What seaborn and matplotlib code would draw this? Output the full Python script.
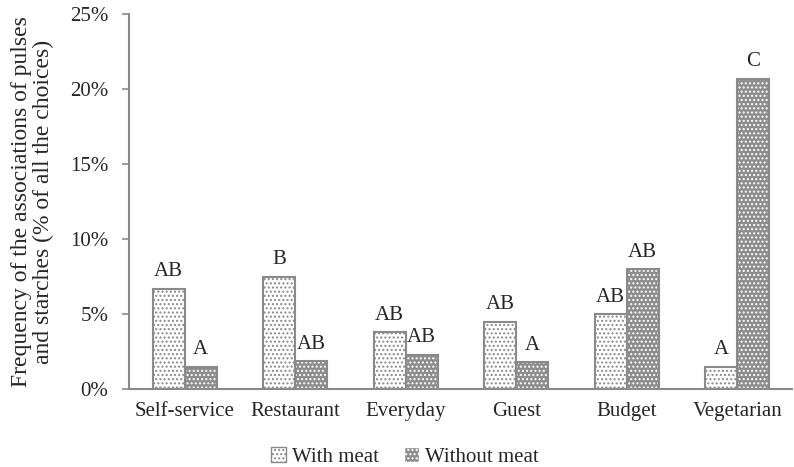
import numpy as np
import pandas as pd
import matplotlib.pyplot as plt
import seaborn as sns
from matplotlib.patches import Patch

# values (% of all choices)
categories = ["Self-service", "Restaurant", "Everyday", "Guest", "Budget", "Vegetarian"]
with_meat = [6.67, 7.5, 3.8, 4.5, 5.0, 1.5]
without_meat = [1.5, 1.85, 2.3, 1.8, 8.0, 20.67]
letters_with = ["AB", "B", "AB", "AB", "AB", "A"]
letters_without = ["A", "AB", "AB", "A", "AB", "C"]
series = ["With meat", "Without meat"]

data = pd.DataFrame({
    "category": categories * 2,
    "value": with_meat + without_meat,
    "type": [series[0]] * len(categories) + [series[1]] * len(categories),
    "letter": letters_with + letters_without,
})

sns.set_style("white")
plt.rcParams['font.family'] = ['Liberation Serif', 'DejaVu Serif']

fig, ax = plt.subplots(figsize=(7.94, 4.67), dpi=100)
fig.subplots_adjust(left=0.163, right=0.998, top=0.97, bottom=0.167)

edge = "#8a8a8a"
sns.barplot(data=data, x="category", y="value", hue="type", order=categories,
            hue_order=series, palette=["white", "#8c8c8c"], width=0.58,
            ax=ax, legend=False)

# dotted fills: light bars get grey dots, dark bars get white dots
n = len(categories)
for i, bar in enumerate(ax.patches[:2 * n]):
    bar.set_hatch("....")
    bar.set_linewidth(0)
    bar.set_edgecolor(edge if i < n else "white")

# outline pass
sns.barplot(data=data, x="category", y="value", hue="type", order=categories,
            hue_order=series, fill=False, width=0.58, ax=ax, legend=False)
for bar in ax.patches[2 * n:]:
    bar.set_edgecolor(edge)
    bar.set_linewidth(1.5)

# significance letters
for bar, (_, row) in zip(ax.patches[:2 * n], data.iterrows()):
    ax.text(bar.get_x() + bar.get_width() / 2, row["value"] + 0.5, row["letter"],
            ha="center", va="bottom", fontsize=15)

ax.set_ylim(0, 25)
ax.set_xlim(-0.5, 5.5)
ax.set_yticks(range(0, 26, 5))
ax.set_yticklabels([f"{v}%" for v in range(0, 26, 5)], fontsize=15)
ax.tick_params(axis="x", labelsize=15, length=0, pad=9)
ax.tick_params(axis="y", left=True, length=5, color=edge, width=1.2, pad=10)
ax.set_xlabel("")
ax.set_ylabel("Frequency of the associations of pulses\nand starches (% of all the choices)",
              fontsize=17, labelpad=12, linespacing=1.05)
for side in ["top", "right"]:
    ax.spines[side].set_visible(False)
for side in ["left", "bottom"]:
    ax.spines[side].set_color(edge)
    ax.spines[side].set_linewidth(1.5)

# legend
handles = [Patch(facecolor="white", edgecolor=edge, hatch="...."),
           Patch(facecolor="#8c8c8c", edgecolor="white", hatch="....")]
fig.legend(handles, series, loc="lower center", ncol=2, frameon=False,
           fontsize=15, bbox_to_anchor=(0.51, -0.04), handlelength=0.7,
           handleheight=0.7, handletextpad=0.3, columnspacing=1.2)

fig.savefig("out.png", dpi=100)
